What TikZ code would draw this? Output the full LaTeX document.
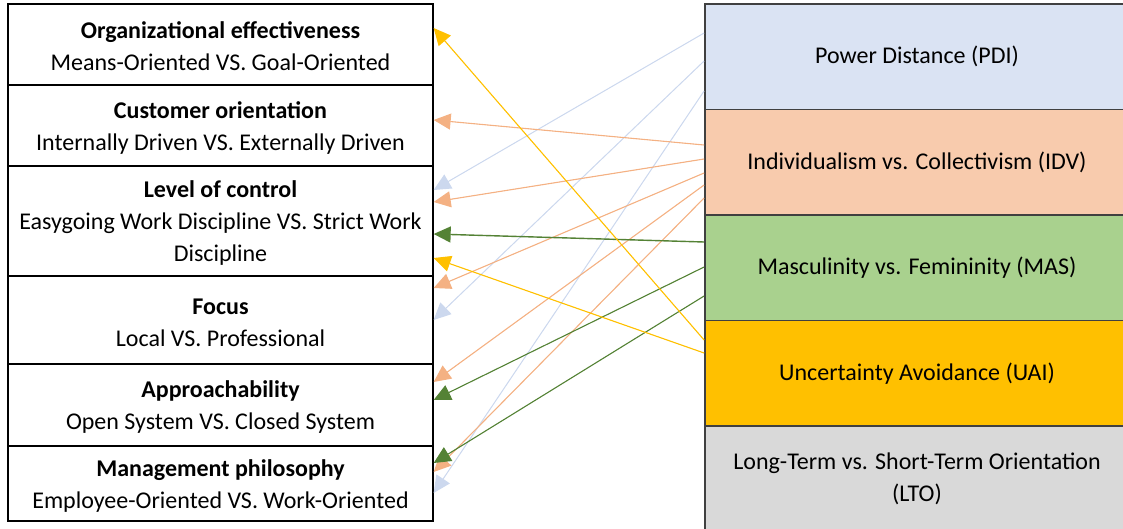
\documentclass[tikz,border=0pt]{standalone}
\usepackage{fontspec}
\setmainfont{Carlito}
\usetikzlibrary{arrows.meta,calc}
\definecolor{pdifill}{HTML}{DAE3F3}
\definecolor{idvfill}{HTML}{F8CBAD}
\definecolor{masfill}{HTML}{A9D18E}
\definecolor{uaifill}{HTML}{FFC000}
\definecolor{ltofill}{HTML}{D9D9D9}
\definecolor{pdiline}{HTML}{CCD8EE}
\definecolor{idvline}{HTML}{F4B183}
\definecolor{masline}{HTML}{548235}
\definecolor{uailine}{HTML}{FFC000}
\definecolor{rborder}{HTML}{404040}
\newcommand\myTopFix{\rule{0pt}{21pt}}
\tikzset{
  lbox/.style={draw=black, line width=1.3pt, minimum width=425pt, inner sep=0pt, align=center, font=\fontsize{24}{32}\selectfont},
  rbox/.style={draw=rborder, line width=1.8pt, minimum width=424pt, minimum height=105.5pt, inner sep=0pt, align=center, font=\fontsize{24}{32}\selectfont},
  conn/.style={line width=1.1pt, -{Triangle[length=17pt,width=16pt]}},
  pdiarr/.style={conn, draw=pdiline, fill=pdiline, line width=1pt},
  idvarr/.style={conn, draw=idvline, fill=idvline},
  masarr/.style={conn, draw=masline, fill=masline},
  uaiarr/.style={conn, draw=uailine, fill=uailine},
}
\begin{document}
\begin{tikzpicture}[x=1pt,y=-1pt]
\useasboundingbox (0,0) rectangle (1123,529);
\clip (0,0) rectangle (1123,529);
% left boxes
\node[lbox, minimum height=81pt] (oe) at (220.5,44.5) {\myTopFix\textbf{Organizational effectiveness}\\Means-Oriented VS. Goal-Oriented};
\node[lbox, minimum height=81pt] (co) at (220.5,125.5) {\myTopFix\textbf{Customer orientation}\\Internally Driven VS. Externally Driven};
\node[lbox, minimum height=110pt] (lc) at (220.5,221) {\myTopFix\textbf{Level of control}\\Easygoing Work Discipline VS. Strict Work\\Discipline};
\node[lbox, minimum height=88pt] (fo) at (220.5,320) {\myTopFix\textbf{Focus}\\Local VS. Professional};
\node[lbox, minimum height=82pt] (ap) at (220.5,405) {\myTopFix\textbf{Approachability}\\Open System VS. Closed System};
\node[lbox, minimum height=75pt] (mp) at (220.5,483.5) {\myTopFix\textbf{Management philosophy}\\Employee-Oriented VS. Work-Oriented};
% right boxes
\node[rbox, fill=pdifill] (pdi) at (917,56.75) {Power Distance (PDI)};
\node[rbox, fill=idvfill] (idv) at (917,162.25) {Individualism vs. Collectivism (IDV)};
\node[rbox, fill=masfill] (mas) at (917,267.75) {Masculinity vs. Femininity (MAS)};
\node[rbox, fill=uaifill] (uai) at (917,373.25) {Uncertainty Avoidance (UAI)};
\node[rbox, fill=ltofill] (lto) at (917,478.75) {Long-Term vs. Short-Term Orientation\\(LTO)};
% PDI connectors
\draw[pdiarr] (pdi.west |- 0,33) -- (lc.east |- 0,190);
\draw[pdiarr] (pdi.west |- 0,61) -- (fo.east |- 0,320);
\draw[pdiarr] (pdi.west |- 0,91) -- (mp.east |- 0,493);
% IDV connectors
\draw[idvarr] (idv.west |- 0,145) -- (co.east |- 0,120);
\draw[idvarr] (idv.west |- 0,159) -- (lc.east |- 0,202);
\draw[idvarr] (idv.west |- 0,173) -- (fo.east |- 0,288);
\draw[idvarr] (idv.west |- 0,185) -- (ap.east |- 0,382);
\draw[idvarr] (idv.west |- 0,198) -- (mp.east |- 0,472);
% MAS connectors
\draw[masarr, line width=1.4pt] (mas.west |- 0,242) -- (lc.east |- 0,234);
\draw[masarr] (mas.west |- 0,267) -- (ap.east |- 0,400);
\draw[masarr] (mas.west |- 0,296) -- (mp.east |- 0,463);
% UAI connectors
\draw[uaiarr] (uai.west |- 0,340) -- (oe.east |- 0,28);
\draw[uaiarr] (uai.west |- 0,353) -- (lc.east |- 0,258);
\end{tikzpicture}
\end{document}
